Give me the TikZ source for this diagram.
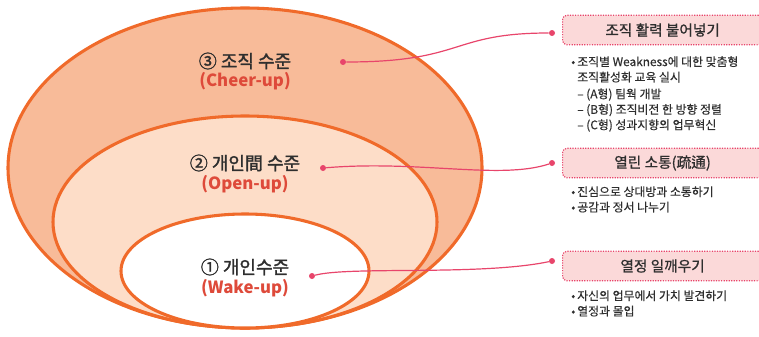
\documentclass[tikz,border=0pt]{standalone}
\usepackage{fontspec}
\setmainfont{Noto Sans CJK KR}
\newfontfamily\krmid[FakeBold=1.6]{Noto Sans CJK KR}
\newfontfamily\krtitle[FakeBold=0.9]{Noto Sans CJK KR}
\newfontfamily\krlist[FakeBold=0.4]{Noto Sans CJK KR}
\usepackage{tikz}
\usetikzlibrary{positioning, calc}
\definecolor{ringline}{HTML}{F06A2A}
\definecolor{outerfill}{HTML}{F8BB99}
\definecolor{middlefill}{HTML}{FDDDC8}
\definecolor{engred}{HTML}{DE4A3A}
\definecolor{linkpink}{HTML}{E8456B}
\definecolor{boxfill}{HTML}{FBD9D9}
\definecolor{textgray}{HTML}{2E2E2E}
\tikzstyle{ring}=[draw=ringline, line width=2.3pt]
\tikzstyle{levelname}=[font=\fontsize{13.5}{15}\selectfont\krmid, text=textgray]
\tikzstyle{levelsub}=[font=\fontsize{12.6}{15}\selectfont\bfseries, text=engred]
\tikzstyle{pindot}=[circle, fill=linkpink, inner sep=0pt, minimum size=4.5pt]
\tikzstyle{link}=[draw=linkpink, line width=0.9pt]
\tikzstyle{titlebox}=[draw=linkpink, densely dotted, line width=0.9pt, fill=boxfill, rounded corners=3pt,
  anchor=west, minimum width=150pt, minimum height=22pt, font=\fontsize{11}{13}\selectfont\krtitle, text=textgray]
\tikzstyle{bullets}=[anchor=north west, inner sep=0pt, align=left, text=textgray,
  font=\fontsize{8.9}{11.6}\selectfont\krlist]

\begin{document}
\begin{tikzpicture}[x=0.75pt, y=-0.75pt]
      \useasboundingbox (0,0) rectangle (759,336);

      % the three levels
      \filldraw[ring, fill=outerfill] (245,168) ellipse [x radius=237, y radius=160];
      \filldraw[ring, fill=middlefill] (245,222) ellipse [x radius=192, y radius=106];
      \filldraw[ring, fill=white] (245,271) ellipse [x radius=124, y radius=57];

      \node[levelname] (lvlThree) at (245,61) {③ 조직 수준};
      \node[levelsub] (lvlThreeSub) at (245,81) {(Cheer-up)};
      \node[levelname] (lvlTwo) at (245,163) {② 개인間 수준};
      \node[levelsub] (lvlTwoSub) at (245,184) {(Open-up)};
      \node[levelname] (lvlOne) at (245,267) {① 개인수준};
      \node[levelsub] (lvlOneSub) at (245,288) {(Wake-up)};

      \node[pindot] (dotThreeL) at (343,62) {};
      \node[pindot] (dotThreeR) at (552,33) {};
      \node[pindot] (dotTwoL) at (323,168) {};
      \node[pindot] (dotTwoR) at (552,163) {};
      \node[pindot] (dotOneL) at (312,276) {};
      \node[pindot] (dotOneR) at (552,261) {};

      \node[titlebox] (boxThree) at (562,30) {조직 활력 불어넣기};
      \node[titlebox] (boxTwo) at (562,163) {열린 소통(疏通)};
      \node[titlebox] (boxOne) at (562,266) {열정 일깨우기};

      \node[bullets] (listThree) at (571,55) {%
        \begin{tabular}{@{}l@{\,}l@{}}
        • & 조직별 Weakness에 대한 맞춤형\\
          & 조직활성화 교육 실시\\[1pt]
          & – (A형) 팀웍 개발\\
          & – (B형) 조직비전 한 방향 정렬\\
          & – (C형) 성과지향의 업무혁신
        \end{tabular}};
      \node[bullets] (listTwo) at (571,185) {%
        \begin{tabular}{@{}l@{\,}l@{}}
        • & 진심으로 상대방과 소통하기\\
        • & 공감과 정서 나누기
        \end{tabular}};
      \node[bullets] (listOne) at (571,289) {%
        \begin{tabular}{@{}l@{\,}l@{}}
        • & 자신의 업무에서 가치 발견하기\\
        • & 열정과 몰입
        \end{tabular}};

      \draw[link] (dotThreeL) .. controls (465,62) and (450,33) .. (dotThreeR);
      \draw[link] (dotTwoL) .. controls (420,160) and (500,180) .. (dotTwoR);
      \draw[link] (dotOneL) .. controls (350,266) and (480,276) .. (dotOneR);
    \end{tikzpicture}
\end{document}
